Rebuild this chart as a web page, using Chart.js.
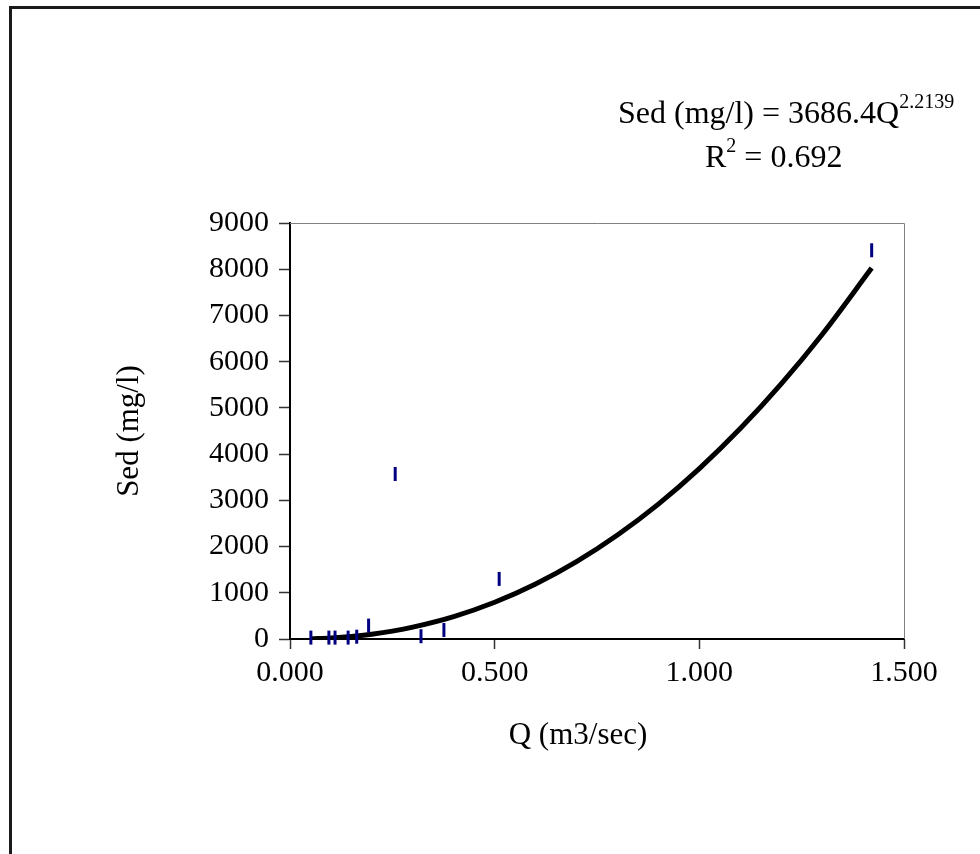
<!DOCTYPE html>
<html>
<head>
<meta charset="utf-8">
<script src="https://cdn.jsdelivr.net/npm/chart.js@4/dist/chart.umd.min.js"></script>
<style>
  html, body { margin: 0; padding: 0; background: #fff; }
  #wrap { width: 980px; height: 854px; position: relative; }
</style>
</head>
<body>
<div id="wrap"><canvas id="sedChart"></canvas></div>
<script>
// ── Data ──
const flowQ  = [0.051, 0.095, 0.110, 0.142, 0.163, 0.192, 0.257, 0.320, 0.376, 0.511, 1.421];
const sedMgL = [30, 30, 30, 30, 50, 290, 3570, 60, 195, 1300, 8410];

// power trendline as drawn
const trendQ   = [0.051, 0.10, 0.15, 0.20, 0.25, 0.30, 0.40, 0.50, 0.60, 0.70, 0.80, 0.90, 1.00, 1.10, 1.20, 1.30, 1.421];
const trendSed = [5, 23, 55, 105, 171, 257, 485, 795, 1190, 1674, 2250, 2919, 3686, 4552, 5519, 6589, 8025];

const xTicks = [0, 0.5, 1.0, 1.5];
const yTicks = [0, 1000, 2000, 3000, 4000, 5000, 6000, 7000, 8000, 9000];

const SERIF = '"Liberation Serif", "Times New Roman", serif';

// ── Frame, border and text overlay ──
const overlay = {
  id: 'overlay',
  beforeDatasetsDraw(chart) {
    const ctx = chart.ctx;
    const a = chart.chartArea;
    ctx.save();
    ctx.strokeStyle = '#808080';
    ctx.lineWidth = 1;
    ctx.beginPath();
    ctx.moveTo(a.left, a.top + 0.5);
    ctx.lineTo(a.right + 0.5, a.top + 0.5);
    ctx.lineTo(a.right + 0.5, a.bottom);
    ctx.stroke();
    ctx.restore();
  },
  afterDraw(chart) {
    const ctx = chart.ctx;
    ctx.save();

    // outer chart border (runs off the right and bottom edge)
    ctx.strokeStyle = '#1a1a1a';
    ctx.lineWidth = 3;
    ctx.beginPath();
    ctx.moveTo(10.5, 860);
    ctx.lineTo(10.5, 7.5);
    ctx.lineTo(990, 7.5);
    ctx.stroke();

    ctx.fillStyle = '#000';
    ctx.textBaseline = 'alphabetic';
    ctx.textAlign = 'left';

    // equation
    ctx.font = '32px ' + SERIF;
    const eq = 'Sed (mg/l) = 3686.4Q';
    ctx.fillText(eq, 618, 123);
    const w1 = ctx.measureText(eq).width;
    ctx.font = '20px ' + SERIF;
    ctx.fillText('2.2139', 618 + w1, 108);

    ctx.font = '32px ' + SERIF;
    ctx.fillText('R', 705, 167);
    const wr = ctx.measureText('R').width;
    ctx.font = '20px ' + SERIF;
    ctx.fillText('2', 705 + wr, 152);
    const ws = ctx.measureText('2').width;
    ctx.font = '32px ' + SERIF;
    ctx.fillText(' = 0.692', 705 + wr + ws, 167);

    // axis titles
    ctx.font = '31px ' + SERIF;
    ctx.textAlign = 'center';
    ctx.textBaseline = 'middle';
    ctx.fillText('Q (m3/sec)', 578, 736);
    ctx.translate(130, 431);
    ctx.rotate(-Math.PI / 2);
    ctx.fillText('Sed (mg/l)', 0, 0);

    ctx.restore();
  }
};

new Chart(document.getElementById('sedChart'), {
  type: 'scatter',
  data: {
    datasets: [
      {
        label: 'Sed',
        data: flowQ.map((q, i) => ({ x: q, y: sedMgL[i] })),
        pointStyle: 'line',
        rotation: 90,
        radius: 7,
        borderWidth: 3,
        borderColor: '#000080',
        backgroundColor: '#000080',
        clip: false,
        order: 0
      },
      {
        label: 'Power trend',
        type: 'line',
        data: trendQ.map((q, i) => ({ x: q, y: trendSed[i] })),
        borderColor: '#000',
        borderWidth: 5,
        pointRadius: 0,
        showLine: true,
        cubicInterpolationMode: 'monotone',
        order: 1
      }
    ]
  },
  options: {
    responsive: true,
    maintainAspectRatio: false,
    animation: false,
    layout: { padding: { left: 0, top: 223, right: 76, bottom: 0 } },
    plugins: { legend: { display: false }, tooltip: { enabled: false } },
    scales: {
      x: {
        type: 'linear',
        min: 0,
        max: 1.5,
        afterBuildTicks: s => { s.ticks = xTicks.map(v => ({ value: v })); },
        afterFit: s => { s.height = 854 - 639; },
        grid: { drawOnChartArea: false, tickLength: 10, tickColor: '#333', tickWidth: 1.5 },
        border: { color: '#000', width: 2 },
        ticks: {
          color: '#000',
          padding: 6,
          maxRotation: 0,
          font: { family: SERIF, size: 30 },
          callback: v => Number(v).toFixed(3)
        }
      },
      y: {
        min: 0,
        max: 9000,
        afterBuildTicks: s => { s.ticks = yTicks.map(v => ({ value: v })); },
        afterFit: s => { s.width = 290; },
        grid: { drawOnChartArea: false, tickLength: 11, tickColor: '#333', tickWidth: 1.5 },
        border: { color: '#000', width: 2 },
        ticks: {
          color: '#000',
          padding: 10,
          font: { family: SERIF, size: 30 },
          callback: v => String(v)
        }
      }
    }
  },
  plugins: [overlay]
});
</script>
</body>
</html>
